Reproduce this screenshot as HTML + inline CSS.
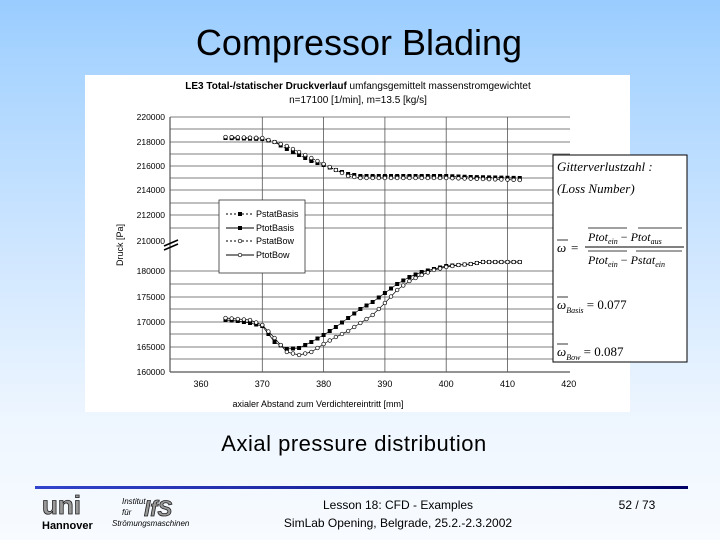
<!DOCTYPE html>
<html><head><meta charset="utf-8">
<style>
body{margin:0;width:720px;height:540px;overflow:hidden;position:relative;font-family:"Liberation Sans",sans-serif;
background:linear-gradient(#99ccff 0px,#a8d4ff 60px,#cfe6ff 250px,#eef6ff 420px,#f8fbff 540px);}
.t{position:absolute;white-space:nowrap;}
</style></head><body>
<div class="t" style="left:0;width:718px;text-align:center;top:22px;font-size:36px;color:#000;">Compressor Blading</div>
<svg width="720" height="540" style="position:absolute;left:0;top:0" id="s" font-family="Liberation Sans, sans-serif">
<rect x="85" y="75" width="545" height="337" fill="#fff"/>
<text x="358" y="89" font-size="10" text-anchor="middle"><tspan font-weight="bold">LE3 Total-/statischer Druckverlauf</tspan> umfangsgemittelt massenstromgewichtet</text>
<text x="358" y="103" font-size="10" text-anchor="middle">n=17100 [1/min], m=13.5 [kg/s]</text>
<g id="grid" stroke="#555" stroke-width="0.8"></g>
<g font-size="8.5" text-anchor="end" id="ylab"></g>
<g font-size="9" text-anchor="middle" id="xlab"></g>
<text x="318" y="407" font-size="9" text-anchor="middle">axialer Abstand zum Verdichtereintritt [mm]</text>
<text x="123" y="245" font-size="9" text-anchor="middle" transform="rotate(-90 123 245)">Druck [Pa]</text>
<g id="curves"></g>
<rect x="219" y="200" width="86" height="73" fill="#fff" stroke="#333" stroke-width="0.8"/>
<g font-size="9">
<line x1="226" y1="214" x2="254" y2="214" stroke="#000" stroke-dasharray="2,2"/><rect x="238" y="212" width="4" height="4"/><text x="256" y="217">PstatBasis</text>
<line x1="226" y1="228" x2="254" y2="228" stroke="#000"/><rect x="238" y="226" width="4" height="4"/><text x="256" y="231">PtotBasis</text>
<line x1="226" y1="241" x2="254" y2="241" stroke="#000" stroke-dasharray="2,2"/><circle cx="240" cy="241" r="1.8" fill="#fff" stroke="#000" stroke-width="0.7"/><text x="256" y="244">PstatBow</text>
<line x1="226" y1="255" x2="254" y2="255" stroke="#000"/><circle cx="240" cy="255" r="1.8" fill="#fff" stroke="#000" stroke-width="0.7"/><text x="256" y="258">PtotBow</text>
</g>
<rect x="553" y="155" width="134" height="207" fill="#fff" stroke="#000" stroke-width="1"/>
<g font-family="Liberation Serif, serif" font-style="italic" font-size="13">
<text x="557" y="171">Gitterverlustzahl :</text>
<text x="557" y="193">(Loss Number)</text>
<text x="557" y="252">ω</text><line x1="557" y1="240" x2="568" y2="240" stroke="#000" stroke-width="0.8"/>
<text x="571" y="252" font-style="normal">=</text>
<line x1="585" y1="247" x2="684" y2="247" stroke="#000"/>
<text x="588" y="241" font-size="12">Ptot<tspan font-size="8" dy="3">ein</tspan><tspan dy="-3" font-style="normal"> − </tspan>Ptot<tspan font-size="8" dy="3">aus</tspan></text>
<line x1="588" y1="228" x2="627" y2="228" stroke="#000" stroke-width="0.8"/><line x1="638" y1="228" x2="682" y2="228" stroke="#000" stroke-width="0.8"/>
<text x="588" y="264" font-size="12">Ptot<tspan font-size="8" dy="3">ein</tspan><tspan dy="-3" font-style="normal"> − </tspan>Pstat<tspan font-size="8" dy="3">ein</tspan></text>
<line x1="588" y1="251" x2="627" y2="251" stroke="#000" stroke-width="0.8"/><line x1="636" y1="251" x2="682" y2="251" stroke="#000" stroke-width="0.8"/>
<text x="557" y="309">ω<tspan font-size="8" dy="4">Basis</tspan><tspan dy="-4" font-style="normal"> = 0.077</tspan></text>
<line x1="557" y1="297" x2="568" y2="297" stroke="#000" stroke-width="0.8"/>
<text x="557" y="356">ω<tspan font-size="8" dy="4">Bow</tspan><tspan dy="-4" font-style="normal"> = 0.087</tspan></text>
<line x1="557" y1="344" x2="568" y2="344" stroke="#000" stroke-width="0.8"/>
</g>
<defs><linearGradient id="lg" x1="0" x2="1"><stop offset="0" stop-color="#3344cc"/><stop offset="1" stop-color="#000066"/></linearGradient></defs>
<rect x="35" y="486" width="653" height="3" fill="url(#lg)"/>
<text x="42" y="514" font-size="26" font-weight="bold" fill="#999" stroke="#222" stroke-width="0.8" font-family="Liberation Sans, sans-serif">uni</text>
<text x="42" y="529" font-size="11" font-weight="bold">Hannover</text>
<text x="122" y="504" font-size="8" font-style="italic">Institut</text>
<text x="122" y="515" font-size="8" font-style="italic">für</text>
<text x="112" y="526" font-size="8" font-style="italic">Strömungsmaschinen</text>
<text x="144" y="516" font-size="22" font-weight="bold" font-style="italic" fill="#999" stroke="#222" stroke-width="0.8">IfS</text>
<text x="398" y="509" font-size="12" text-anchor="middle">Lesson 18: CFD - Examples</text>
<text x="398" y="527" font-size="12" text-anchor="middle">SimLab Opening, Belgrade, 25.2.-2.3.2002</text>
<text x="637" y="509" font-size="12" text-anchor="middle">52 / 73</text>
</svg>
<div class="t" style="left:0;width:708px;text-align:center;top:431px;font-size:22px;letter-spacing:0.5px;">Axial pressure distribution</div>
<script>
var NS="http://www.w3.org/2000/svg";
function el(p,n,a,t){var e=document.createElementNS(NS,n);for(var k in a)e.setAttribute(k,a[k]);if(t)e.textContent=t;p.appendChild(e);return e;}
var g=document.getElementById('grid'),yl=document.getElementById('ylab'),xl=document.getElementById('xlab'),cv=document.getElementById('curves');
function X(v){return 201+(v-360)*6.13;}
var hs=[117,129,142,154,166,178,190,203,215,228,271,284,297,309,322,334,347,359,372];
hs.forEach(function(y){el(g,'line',{x1:170,y1:y,x2:570,y2:y});});
[[117,'220000'],[142,'218000'],[166,'216000'],[190,'214000'],[215,'212000'],[241,'210000'],[271,'180000'],[297,'175000'],[322,'170000'],[347,'165000'],[372,'160000']].forEach(function(a){el(yl,'text',{x:165,y:a[0]+3},a[1]);});
for(var v=360;v<=420;v+=10){var x=X(v);if(v>360&&v<420)el(g,'line',{x1:x,y1:117,x2:x,y2:372});el(xl,'text',{x:x,y:387},''+v);}
el(g,'line',{x1:170,y1:117,x2:170,y2:372,'stroke-width':1.2});
el(g,'line',{x1:170,y1:372,x2:570,y2:372,'stroke-width':1.2});
el(g,'line',{x1:164,y1:246,x2:178,y2:240,'stroke-width':1.5,stroke:'#000'});
el(g,'line',{x1:164,y1:250,x2:178,y2:244,'stroke-width':1.5,stroke:'#000'});
function interp(pts,v){for(var i=0;i<pts.length-1;i++){if(v>=pts[i][0]&&v<=pts[i+1][0]){var t=(v-pts[i][0])/(pts[i+1][0]-pts[i][0]);return pts[i][1]+t*(pts[i+1][1]-pts[i][1]);}}return pts[pts.length-1][1];}
var uB=[[364,138],[370,139],[372,142],[374,149],[376,155],[378,161],[380,165],[382,170],[384,174],[386,176],[400,176],[404,177],[412,178]];
var uW=[[364,137],[370,138],[374,146],[378,158],[380,164],[382,170],[384,176],[386,178],[400,178],[412,180]];
var lB=[[364,320],[366,321],[368,323],[370,326],[372,342],[374,349],[376,348],[378,342],[380,335],[382,327],[384,318],[386,309],[388,302],[390,293],[392,284],[394,277],[396,272],[398,269],[400,266],[402,265],[404,264],[406,262],[412,262]];
var lW=[[364,318],[368,320],[370,325],[372,338],[374,352],[376,355],[378,352],[380,344],[382,337],[384,331],[386,323],[388,315],[390,303],[392,290],[394,281],[396,275],[398,270],[400,267],[402,265],[404,264],[406,262],[412,262]];
function draw(pts,sq,dash){var s='';for(var v=364;v<=412;v++)s+=X(v)+','+interp(pts,v)+' ';
var a={points:s,fill:'none',stroke:'#000','stroke-width':0.7};if(dash)a['stroke-dasharray']='2,2';el(cv,'polyline',a);
for(var v=364;v<=412;v++){var x=X(v),y=interp(pts,v);if(sq)el(cv,'rect',{x:x-2,y:y-2,width:4,height:4,fill:'#000'});else el(cv,'circle',{cx:x,cy:y,r:1.8,fill:'#fff',stroke:'#000','stroke-width':0.7});}}
draw(uB,true,true);draw(uW,false,true);draw(lB,true,false);draw(lW,false,false);
</script>
</body></html>
